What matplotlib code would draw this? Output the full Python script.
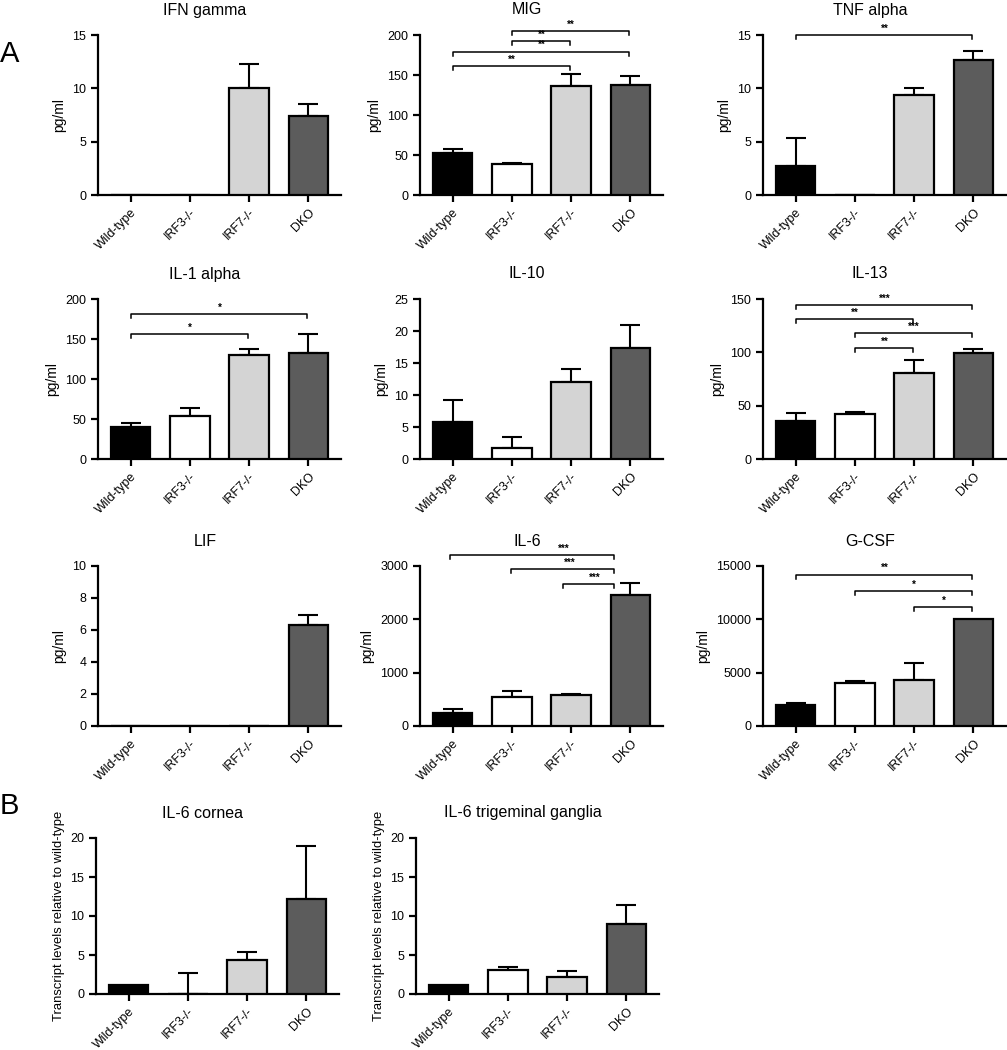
import matplotlib
matplotlib.use("Agg")
import matplotlib.pyplot as plt
import numpy as np

plt.rcParams['font.family'] = ['Liberation Sans', 'DejaVu Sans']

groups = ["Wild-type", "IRF3-/-", "IRF7-/-", "DKO"]
bar_colors = ["#000000", "#ffffff", "#d4d4d4", "#5c5c5c"]

# mean values and upper error (SEM) per panel
ifn_mean = [0, 0, 10.0, 7.4]
ifn_err = [0, 0, 2.3, 1.1]
mig_mean = [52.5, 39, 136, 137.5]
mig_err = [5, 1, 15, 11.5]
tnf_mean = [2.7, 0, 9.4, 12.65]
tnf_err = [2.6, 0, 0.6, 0.85]
il1_mean = [40, 54, 129.5, 133]
il1_err = [5, 10, 8.5, 23]
il10_mean = [5.8, 1.7, 12.0, 17.4]
il10_err = [3.4, 1.7, 2.1, 3.6]
il13_mean = [36, 42, 81, 99]
il13_err = [7, 2, 12, 4]
lif_mean = [0, 0, 0, 6.3]
lif_err = [0, 0, 0, 0.65]
il6_mean = [240, 540, 590, 2450]
il6_err = [80, 110, 15, 230]
gcsf_mean = [1950, 4050, 4300, 10000]
gcsf_err = [200, 150, 1600, 0]
cornea_mean = [1.1, 0, 4.4, 12.2]
cornea_err = [0, 2.7, 1.0, 6.8]
tg_mean = [1.1, 3.1, 2.2, 9.0]
tg_err = [0, 0.4, 0.7, 2.4]

# significance brackets: (start, end, height, label, label x or None for middle)
mig_sig = [(0, 2, 161, "**", None), (0, 3, 179, "**", None),
           (1, 2, 192, "**", None), (1, 3, 205, "**", None)]
tnf_sig = [(0, 3, 15.0, "**", None)]
il1_sig = [(0, 2, 156, "*", None), (0, 3, 181, "*", None)]
il13_sig = [(0, 3, 144, "***", None), (0, 2, 131, "**", None),
            (1, 3, 118, "***", None), (1, 2, 104, "**", None)]
# the IL-6 brackets in the source stop short of the DKO tick
il6_sig = [(-0.05, 2.75, 3200, "***", 1.87), (0.98, 2.75, 2940, "***", 1.97),
           (1.87, 2.75, 2660, "***", 2.39)]
gcsf_sig = [(0, 3, 14200, "**", None), (1, 3, 12650, "*", None), (2, 3, 11150, "*", None)]

panels = [
    ("IFN gamma", ifn_mean, ifn_err, [0, 5, 10, 15], [], "pg/ml"),
    ("MIG", mig_mean, mig_err, [0, 50, 100, 150, 200], mig_sig, "pg/ml"),
    ("TNF alpha", tnf_mean, tnf_err, [0, 5, 10, 15], tnf_sig, "pg/ml"),
    ("IL-1 alpha", il1_mean, il1_err, [0, 50, 100, 150, 200], il1_sig, "pg/ml"),
    ("IL-10", il10_mean, il10_err, [0, 5, 10, 15, 20, 25], [], "pg/ml"),
    ("IL-13", il13_mean, il13_err, [0, 50, 100, 150], il13_sig, "pg/ml"),
    ("LIF", lif_mean, lif_err, [0, 2, 4, 6, 8, 10], [], "pg/ml"),
    ("IL-6", il6_mean, il6_err, [0, 1000, 2000, 3000], il6_sig, "pg/ml"),
    ("G-CSF", gcsf_mean, gcsf_err, [0, 5000, 10000, 15000], gcsf_sig, "pg/ml"),
    ("IL-6 cornea", cornea_mean, cornea_err, [0, 5, 10, 15, 20], [],
     "Transcript levels relative to wild-type"),
    ("IL-6 trigeminal ganglia", tg_mean, tg_err, [0, 5, 10, 15, 20], [],
     "Transcript levels relative to wild-type"),
]

W, H = 1007, 1050
fig = plt.figure(figsize=(W / 100, H / 100), dpi=100)

col_left = [98, 420, 763]
row_top = [35, 299, 566, 838]
row_bot = [195, 459, 726, 994]
ax_w = 243

x = np.arange(4)
for k, (title, mean, err, yticks, sig, ylab) in enumerate(panels):
    r, c = divmod(k, 3)
    left = col_left[c] if r < 3 else [96, 416][c]
    ax = fig.add_axes([left / W, 1 - row_bot[r] / H, ax_w / W, (row_bot[r] - row_top[r]) / H])
    ax.bar(x, mean, width=0.67, color=bar_colors, edgecolor="black", linewidth=1.6, zorder=3)
    err = np.array(err, dtype=float)
    m = err > 0
    lower = np.zeros(m.sum())
    ax.errorbar(x[m], np.array(mean)[m], yerr=[lower, err[m]], fmt="none", ecolor="black",
                elinewidth=1.5, capsize=7, capthick=1.5, zorder=2)
    ymax = yticks[-1]
    ax.set_xlim(-0.55, 3.55)
    ax.set_ylim(0, ymax)
    ax.set_yticks(yticks)
    ax.set_xticks(x)
    ax.set_xticklabels(groups, rotation=45, ha="right", rotation_mode="anchor")
    for s in ["top", "right"]:
        ax.spines[s].set_visible(False)
    for s in ["left", "bottom"]:
        ax.spines[s].set_linewidth(1.6)
    ax.tick_params(axis="both", direction="out", length=5, width=1.6, labelsize=9)
    ax.tick_params(axis="x", pad=3)
    ax.set_ylabel(ylab, fontsize=10 if r < 3 else 9.4)
    ax.text(0.44, 1 + 25 / (row_bot[r] - row_top[r]), title, transform=ax.transAxes,
            ha="center", va="center", fontsize=11.5)

    # significance brackets
    drop = ymax * 0.025
    for a, b, yv, lab, lx in sig:
        if lx is None:
            lx = (a + b) / 2
        ax.plot([a, a, b - 0.02, b - 0.02], [yv - drop, yv, yv, yv - drop],
                color="black", lw=1.1, clip_on=False, zorder=4)
        ax.text(lx, yv + ymax * 0.01, lab, ha="center", va="bottom",
                fontsize=7, fontweight="bold", clip_on=False)

fig.text(0 / W, 1 - 54 / H, "A", fontsize=21, ha="left", va="center")
fig.text(0 / W, 1 - 806 / H, "B", fontsize=21, ha="left", va="center")

fig.savefig("out.png", dpi=100)
